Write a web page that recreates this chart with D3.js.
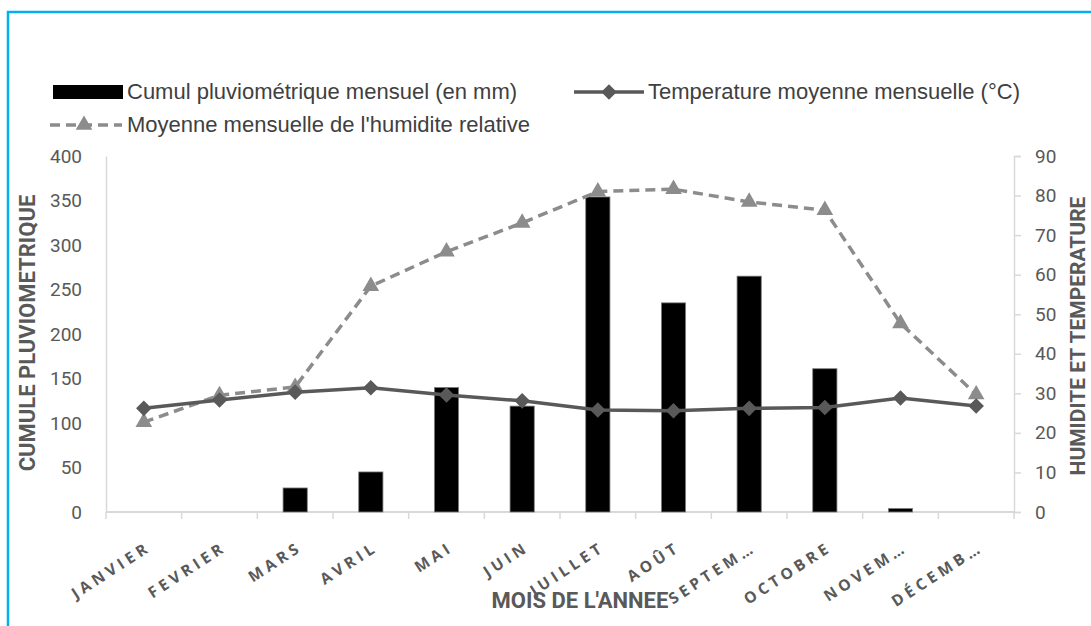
<!DOCTYPE html>
<html>
<head>
<meta charset="utf-8">
<script src="https://cdn.jsdelivr.net/npm/d3@7"></script>
<style>
  html, body { margin: 0; padding: 0; background: #fff; }
  #chart { width: 1091px; height: 626px; }
</style>
</head>
<body>
<div id="chart"></div>
<script>
// Data
const months = ["JANVIER", "FEVRIER", "MARS", "AVRIL", "MAI", "JUIN", "JUILLET", "AOÛT", "SEPTEM…", "OCTOBRE", "NOVEM…", "DÉCEMB…"];
const rainfall = [0, 0, 27, 45, 140, 119, 354, 235, 265, 161, 4, 0];
const temperature = [26.2, 28.3, 30.3, 31.4, 29.6, 28.1, 25.8, 25.6, 26.2, 26.4, 28.8, 26.8];
const humidity = [22.7, 29.5, 31.6, 57.1, 65.8, 73.1, 81.0, 81.6, 78.4, 76.3, 47.7, 29.7];
const leftTicks = [0, 50, 100, 150, 200, 250, 300, 350, 400];
const rightTicks = [0, 10, 20, 30, 40, 50, 60, 70, 80, 90];

const width = 1091, height = 626;
const margin = { top: 156, right: 77, bottom: 114, left: 106 };
const plotW = width - margin.left - margin.right;
const plotH = height - margin.top - margin.bottom;

const svg = d3.select("#chart")
    .append("svg")
    .attr("width", width)
    .attr("height", height)
    .style("display", "block");

// Outer frame (blue)
svg.append("rect")
    .attr("x", 8)
    .attr("y", 12)
    .attr("width", width + 20)
    .attr("height", height + 20)
    .attr("fill", "none")
    .attr("stroke", "#00b0f0")
    .attr("stroke-width", 2.5);

const g = svg.append("g")
    .attr("transform", `translate(${margin.left},${margin.top})`);

// Scales
const x = d3.scaleBand()
    .domain(months)
    .range([0, plotW])
    .paddingInner(0.68)
    .paddingOuter(0.34);

const yLeft = d3.scaleLinear().domain([0, 400]).range([plotH, 0]);
const yRight = d3.scaleLinear().domain([0, 90]).range([plotH, 0]);

const axisColor = "#d9d9d9";
const textColor = "#595959";

// Left axis
const leftAxis = g.append("g")
    .call(d3.axisLeft(yLeft).tickValues(leftTicks).tickSize(0).tickPadding(24));
leftAxis.select(".domain").attr("stroke", axisColor).attr("stroke-width", 1.5);
leftAxis.selectAll("text")
    .attr("fill", textColor)
    .style("font-family", "Roboto, sans-serif")
    .style("font-size", "19px");

// Right axis
const rightAxis = g.append("g")
    .attr("transform", `translate(${plotW},0)`)
    .call(d3.axisRight(yRight).tickValues(rightTicks).tickSize(7).tickPadding(14));
rightAxis.select(".domain").attr("stroke", axisColor).attr("stroke-width", 1.5);
rightAxis.selectAll("line").attr("stroke", axisColor).attr("stroke-width", 1.5);
rightAxis.selectAll("text")
    .attr("fill", textColor)
    .style("font-family", "Roboto, sans-serif")
    .style("font-size", "19px");

// Bottom axis with ticks between categories
const bottom = g.append("g").attr("transform", `translate(0,${plotH})`);
bottom.append("line")
    .attr("x1", 0).attr("x2", plotW)
    .attr("stroke", axisColor).attr("stroke-width", 2);
const step = x.step();
bottom.selectAll(".tick")
    .data(d3.range(months.length + 1))
    .enter()
    .append("line")
    .attr("x1", i => i * step)
    .attr("x2", i => i * step)
    .attr("y1", 0)
    .attr("y2", 7)
    .attr("stroke", axisColor)
    .attr("stroke-width", 1.5);

bottom.selectAll(".mlabel")
    .data(months)
    .enter()
    .append("text")
    .attr("class", "mlabel")
    .attr("transform", d => `translate(${x(d) + x.bandwidth() / 2 + 8},${38}) rotate(-33)`)
    .attr("text-anchor", "end")
    .attr("fill", textColor)
    .style("font-family", "'Open Sans', sans-serif")
    .style("font-weight", "700")
    .style("font-size", "15.5px")
    .style("letter-spacing", "4px")
    .text(d => d);

// Bars
g.selectAll(".bar")
    .data(months.map((m, i) => ({ m, v: rainfall[i] })))
    .enter()
    .append("rect")
    .attr("class", "bar")
    .attr("x", d => x(d.m))
    .attr("y", d => yLeft(d.v))
    .attr("width", x.bandwidth())
    .attr("height", d => plotH - yLeft(d.v))
    .attr("fill", "#000")
    .attr("stroke", "#7f7f7f")
    .attr("stroke-width", d => d.v > 0 ? 0.8 : 0);

const cx = m => x(m) + x.bandwidth() / 2;

// Humidity line (dashed, triangles)
const humColor = "#8c8c8c";
const humData = months.map((m, i) => ({ m, v: humidity[i] }));
g.append("path")
    .datum(humData)
    .attr("fill", "none")
    .attr("stroke", humColor)
    .attr("stroke-width", 3.5)
    .attr("stroke-dasharray", "10,6")
    .attr("d", d3.line().x(d => cx(d.m)).y(d => yRight(d.v)));

const triangle = d3.symbol().type(d3.symbolTriangle).size(120);
g.selectAll(".hum")
    .data(humData)
    .enter()
    .append("path")
    .attr("class", "hum")
    .attr("transform", d => `translate(${cx(d.m)},${yRight(d.v)})`)
    .attr("d", triangle)
    .attr("fill", humColor);

// Temperature line (solid, diamonds)
const tempColor = "#595959";
const tempData = months.map((m, i) => ({ m, v: temperature[i] }));
g.append("path")
    .datum(tempData)
    .attr("fill", "none")
    .attr("stroke", tempColor)
    .attr("stroke-width", 3.5)
    .attr("d", d3.line().x(d => cx(d.m)).y(d => yRight(d.v)));

g.selectAll(".temp")
    .data(tempData)
    .enter()
    .append("rect")
    .attr("class", "temp")
    .attr("x", -5.5)
    .attr("y", -5.5)
    .attr("width", 11)
    .attr("height", 11)
    .attr("transform", d => `translate(${cx(d.m)},${yRight(d.v)}) rotate(45)`)
    .attr("fill", tempColor);

// Axis titles
const titleFont = "'Liberation Sans Narrow', 'Roboto', sans-serif";
svg.append("text")
    .attr("transform", "translate(35,333) rotate(-90)")
    .attr("text-anchor", "middle")
    .attr("fill", textColor)
    .style("font-family", titleFont)
    .style("font-weight", "700")
    .style("font-size", "22px")
    .text("CUMULE PLUVIOMETRIQUE");

svg.append("text")
    .attr("transform", "translate(1085,336) rotate(-90)")
    .attr("text-anchor", "middle")
    .attr("fill", textColor)
    .style("font-family", titleFont)
    .style("font-weight", "700")
    .style("font-size", "21px")
    .text("HUMIDITE ET TEMPERATURE");

svg.append("text")
    .attr("x", 580)
    .attr("y", 608)
    .attr("text-anchor", "middle")
    .attr("fill", textColor)
    .style("font-family", titleFont)
    .style("font-weight", "700")
    .style("font-size", "22px")
    .text("MOIS DE L'ANNEE");

// Legend
const legend = svg.append("g")
    .style("font-family", "'Liberation Sans', sans-serif")
    .style("font-size", "22px")
    .attr("fill", "#404040");

legend.append("rect")
    .attr("x", 53).attr("y", 85).attr("width", 70).attr("height", 14)
    .attr("fill", "#000");
legend.append("text").attr("x", 127).attr("y", 99)
    .text("Cumul pluviométrique mensuel (en mm)");

legend.append("line")
    .attr("x1", 574).attr("x2", 644).attr("y1", 92).attr("y2", 92)
    .attr("stroke", tempColor).attr("stroke-width", 3.5);
legend.append("rect")
    .attr("x", -5.5).attr("y", -5.5).attr("width", 11).attr("height", 11)
    .attr("transform", "translate(609,92) rotate(45)")
    .attr("fill", tempColor);
legend.append("text").attr("x", 648).attr("y", 99)
    .text("Temperature moyenne mensuelle (°C)");

legend.append("line")
    .attr("x1", 50).attr("x2", 122).attr("y1", 125).attr("y2", 125)
    .attr("stroke", humColor).attr("stroke-width", 3.5)
    .attr("stroke-dasharray", "10,6");
legend.append("path")
    .attr("transform", "translate(84,125)")
    .attr("d", triangle)
    .attr("fill", humColor);
legend.append("text").attr("x", 127).attr("y", 132)
    .text("Moyenne mensuelle de l'humidite relative");
</script>
</body>
</html>
